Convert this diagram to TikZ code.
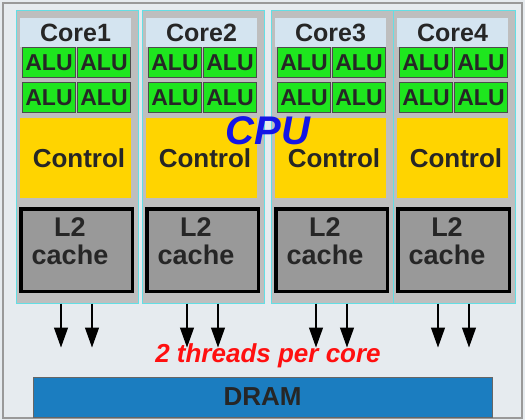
\documentclass[tikz,border=0pt]{standalone}
\usepackage{fontspec}
\setmainfont{Liberation Sans}
\usetikzlibrary{arrows.meta, positioning}

\definecolor{bgcol}{RGB}{230,235,239}
\definecolor{coreedge}{RGB}{100,222,228}
\definecolor{coregray}{RGB}{190,190,190}
\definecolor{headcol}{RGB}{212,228,240}
\definecolor{alucol}{RGB}{30,230,30}
\definecolor{ctrlcol}{RGB}{255,212,0}
\definecolor{cachecol}{RGB}{153,153,153}
\definecolor{dramcol}{RGB}{27,125,192}
\definecolor{cpucol}{RGB}{20,20,230}
\definecolor{threadcol}{RGB}{255,16,16}

\begin{document}
\begin{tikzpicture}[x=1pt, y=-1pt, font=\bfseries, text=black!85,
    core/.style={draw=coreedge, line width=1pt, fill=coregray, minimum width=122pt, minimum height=292pt, inner sep=0pt},
    head/.style={fill=headcol, minimum width=111pt, minimum height=29pt, inner sep=0pt, font=\fontsize{25}{25}\selectfont\bfseries},
    alu/.style={draw=black!70, line width=0.8pt, fill=alucol, minimum width=53pt, minimum height=30pt, inner sep=0pt, font=\fontsize{23}{23}\selectfont\bfseries},
    ctrl/.style={fill=ctrlcol, minimum width=111pt, minimum height=80pt, inner sep=0pt, font=\fontsize{26}{26}\selectfont\bfseries},
    cache/.style={draw=black, line width=3.5pt, fill=cachecol, minimum width=111.5pt, minimum height=82.5pt, inner sep=0pt, font=\fontsize{27}{31}\selectfont\bfseries},
    thread/.style={-{Triangle[length=20pt, width=14pt]}, line width=1.2pt}]

    % frame and background
    \useasboundingbox (0,0) rectangle (525,420);
    \fill[bgcol] (0,0) rectangle (525,420);
    \draw[black!40, line width=1.2pt] (3,3) rectangle (522,418);

    % the four cores
    \foreach \i/\x in {1/16, 2/142, 3/271, 4/393} {
        \node[core] (core\i) at (\x+61,157) {};
        \node[head] (head\i) at (\x+59.5,32.5) {Core\i};
        \node[alu] (alu\i-1) at (\x+33,62.5) {ALU};
        \node[alu] (alu\i-2) at (\x+88,62.5) {ALU};
        \node[alu] (alu\i-3) at (\x+33,97.5) {ALU};
        \node[alu] (alu\i-4) at (\x+88,97.5) {ALU};
        \node[ctrl] (ctrl\i) at (\x+59.5,158) {\hspace*{7pt}\raisebox{-2pt}{Control}};
        \node[cache] (cache\i) at (\x+60.5,250)
            {\hspace*{-13pt}\raisebox{6pt}[\height][\depth]{\begin{tabular}{@{}c@{}}L2\\[-3pt]cache\end{tabular}}};
        % two threads leave each core
        \path ([xshift=-16pt]core\i.south) ++(0,44) coordinate (tip\i-1);
        \path ([xshift=15pt]core\i.south) ++(0,44) coordinate (tip\i-2);
        \draw[thread] ([xshift=-16pt]core\i.south) -- (tip\i-1);
        \draw[thread] ([xshift=15pt]core\i.south) -- (tip\i-2);
    }

    \node[text=cpucol, font=\fontsize{40}{40}\selectfont\bfseries\itshape] (cpu) at (268,131) {CPU};
    \node[text=threadcol, font=\fontsize{26}{26}\selectfont\bfseries\itshape] (threads) at (268,356) {2 threads per core};
    \node[draw=black!60, fill=dramcol, minimum width=459pt, minimum height=40pt, inner sep=0pt,
        font=\fontsize{26}{26}\selectfont\bfseries] (dram) at (262.5,397) {DRAM};
\end{tikzpicture}
\end{document}
